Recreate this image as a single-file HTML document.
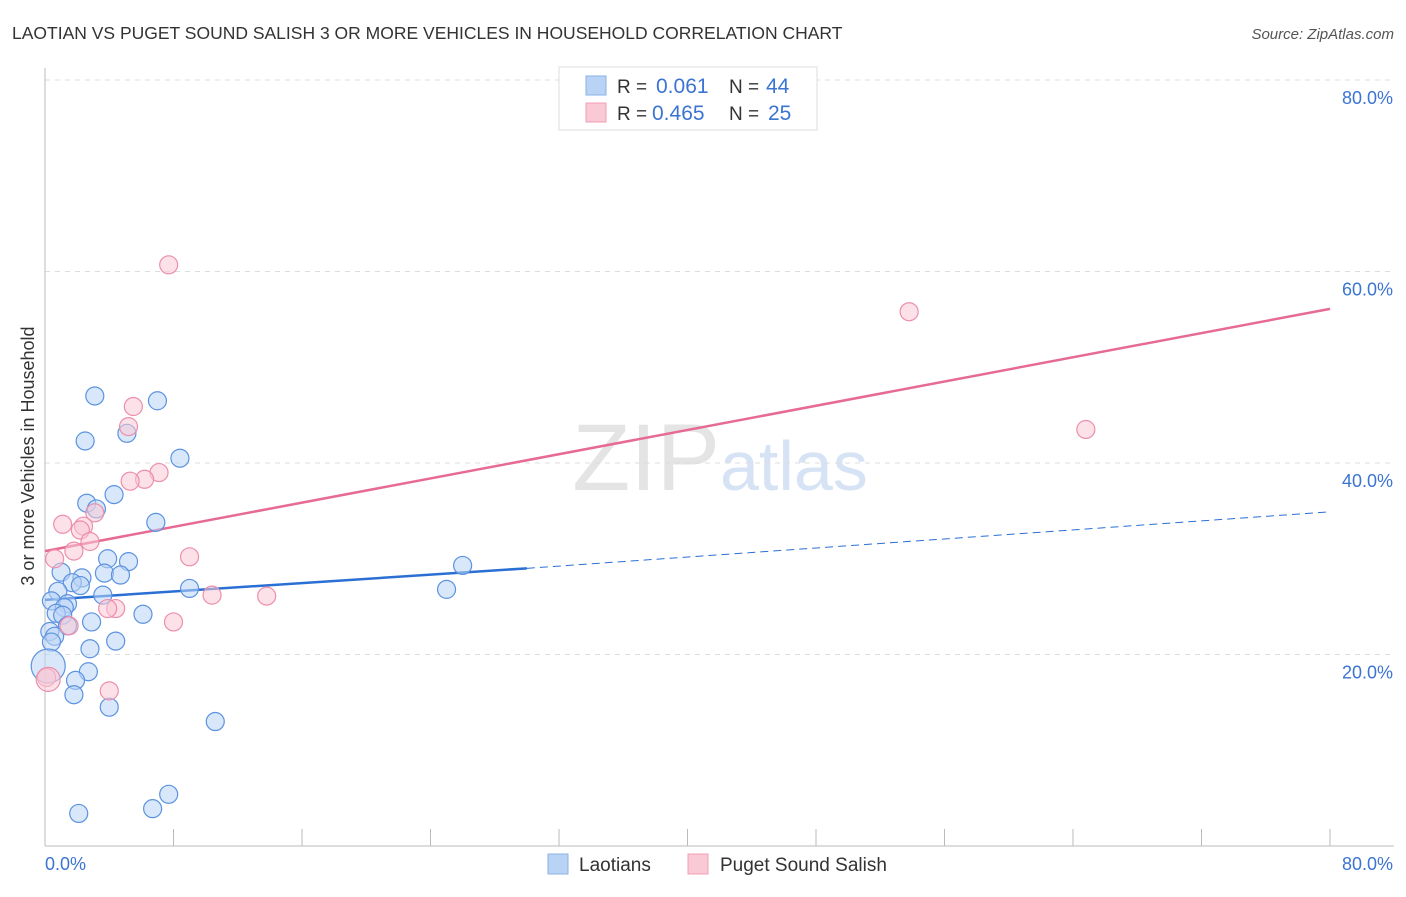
<!DOCTYPE html>
<html><head><meta charset="utf-8"><style>
body{margin:0;background:#fff;font-family:"Liberation Sans",sans-serif;}
svg text{font-family:"Liberation Sans",sans-serif;}
</style></head><body>
<svg id="chart" width="1406" height="892" xmlns="http://www.w3.org/2000/svg">
<text x="12" y="39" font-size="17.5" fill="#333">LAOTIAN VS PUGET SOUND SALISH 3 OR MORE VEHICLES IN HOUSEHOLD CORRELATION CHART</text>
<text x="1394" y="39" font-size="15" fill="#555" font-style="italic" text-anchor="end">Source: ZipAtlas.com</text>
<text x="720" y="490" font-size="95" fill="#e4e4e4" text-anchor="end" font-family="Liberation Serif">ZIP</text>
<text x="720" y="490" font-size="70" fill="#d6e3f5">atlas</text>
<text transform="translate(34,456) rotate(-90)" font-size="18" fill="#333" text-anchor="middle">3 or more Vehicles in Household</text>
<g id="grid"></g><g id="axes"></g><g id="lines"></g><g id="pts"></g>
<g>
<rect x="559" y="67" width="258" height="63" fill="#fff" stroke="#ddd"/>
<rect x="586" y="76" width="20" height="19" fill="#b9d3f5" stroke="#8ab2e6"/>
<rect x="586" y="103" width="20" height="19" fill="#f9c9d6" stroke="#efa0b7"/>
<text x="617" y="93" font-size="19" fill="#333">R = </text><text x="656" y="93" font-size="21" fill="#3b74d1">0.061</text>
<text x="729" y="93" font-size="19" fill="#333">N = </text><text x="766" y="93" font-size="21" fill="#3b74d1">44</text>
<text x="617" y="120" font-size="19" fill="#333">R = </text><text x="652" y="120" font-size="21" fill="#3b74d1">0.465</text>
<text x="729" y="120" font-size="19" fill="#333">N = </text><text x="768" y="120" font-size="21" fill="#3b74d1">25</text>
</g>
<g>
<rect x="548" y="854" width="20" height="20" fill="#b9d3f5" stroke="#8ab2e6"/>
<text x="579" y="871" font-size="19" fill="#333">Laotians</text>
<rect x="688" y="854" width="20" height="20" fill="#f9c9d6" stroke="#efa0b7"/>
<text x="720" y="871" font-size="19" fill="#333">Puget Sound Salish</text>
</g>
</svg>
<script>
const yTicks=[20,40,60,80];
const yTickLabels=["20.0%","40.0%","60.0%","80.0%"];
const xTickLabels=["0.0%","80.0%"];
const blueX=[3.1,7.0,2.5,5.1,8.4,2.6,4.3,3.2,6.9,3.9,5.2,1.0,3.7,4.7,2.3,1.7,2.2,9.0,25.0,26.0,0.8,3.6,0.4,1.4,1.2,6.1,0.7,1.1,2.9,1.4,0.3,0.6,4.4,2.8,0.4,2.7,0.2,1.9,1.8,4.0,10.6,2.1,6.7,7.7];
const blueY=[47.0,46.5,42.3,43.1,40.5,35.8,36.7,35.2,33.8,30.0,29.7,28.6,28.5,28.3,28.0,27.5,27.2,26.9,26.8,29.3,26.6,26.2,25.6,25.3,24.9,24.2,24.3,24.1,23.4,23.0,22.4,21.9,21.4,20.6,21.3,18.2,18.8,17.3,15.8,14.5,13.0,3.4,3.9,5.4];
const pinkX=[7.7,53.8,64.8,5.5,5.2,7.1,6.2,5.3,3.1,1.1,2.4,2.2,2.8,1.8,0.6,9.0,10.4,13.8,4.4,3.9,8.0,1.5,4.0,0.1,0.2];
const pinkY=[60.7,55.8,43.5,45.9,43.8,39.0,38.3,38.1,34.8,33.6,33.4,33.0,31.8,30.8,30.0,30.2,26.2,26.1,24.8,24.8,23.4,23.0,16.2,17.6,17.4];
const pinkR=[9,9,9,9,9,9,9,9,9,9,9,9,9,9,9,9,9,9,9,9,9,9,9,9,9];
const blueLine=[[0,25.7],[30,29.0],[80,34.9]];
const pinkLine=[[0,30.8],[80,56.1]];
const X0=45,X1=1330,Y0=846,YS=9.575;
const xs=v=>X0+v*(X1-X0)/80, ys=v=>Y0-v*YS;
const NS="http://www.w3.org/2000/svg";
function mk(tag,attrs,parent){const e=document.createElementNS(NS,tag);for(const k in attrs)e.setAttribute(k,attrs[k]);document.getElementById(parent).appendChild(e);return e;}
yTicks.forEach((t,i)=>{
 const g=mk('line',{x1:45,x2:1394,y1:ys(t),y2:ys(t),stroke:'#ddd','stroke-dasharray':'5,5'},'grid');
 
 
 const l=mk('text',{x:1393,y:ys(t)+24,'font-size':18,fill:'#3b74d1','text-anchor':'end'},'grid');
 l.textContent=yTickLabels[i];
 
 
});
const ax=mk('line',{x1:45,x2:45,y1:68,y2:846,stroke:'#bbb'},'axes');


const bx=mk('line',{x1:45,x2:1394,y1:846,y2:846,stroke:'#bbb'},'axes');


for(let i=1;i<=10;i++){const t=mk('line',{x1:xs(i*8),x2:xs(i*8),y1:829,y2:846,stroke:'#bbb'},'axes');
 
 }
[[0,'start',45],[80,'end',1393]].forEach((d,i)=>{const t=mk('text',{x:d[2],y:870,'font-size':18,fill:'#3b74d1','text-anchor':d[1]},'axes');t.textContent=xTickLabels[i];
 
 });
function circ(x,y,r,f,s,name){const c=mk('circle',{cx:xs(x),cy:ys(y),r:r,fill:f,'fill-opacity':0.55,stroke:s,'stroke-width':1.2},'pts');
 
 }
blueX.forEach((x,i)=>circ(x,blueY[i],i==36?17:9,'#b9d3f5','#5b93e0','laotian-point'));
pinkX.forEach((x,i)=>circ(x,pinkY[i],i==24?12:pinkR[i],'#f9c9d6','#ec8fab','puget-point'));
const b1=mk('line',{x1:xs(blueLine[0][0]),y1:ys(blueLine[0][1]),x2:xs(blueLine[1][0]),y2:ys(blueLine[1][1]),stroke:'#2a6fd4','stroke-width':2.5},'lines');


const b2=mk('line',{x1:xs(blueLine[1][0]),y1:ys(blueLine[1][1]),x2:xs(blueLine[2][0]),y2:ys(blueLine[2][1]),stroke:'#2a6fd4','stroke-width':1,'stroke-dasharray':'8,5'},'lines');


const p1=mk('line',{x1:xs(pinkLine[0][0]),y1:ys(pinkLine[0][1]),x2:xs(pinkLine[1][0]),y2:ys(pinkLine[1][1]),stroke:'#e76a92','stroke-width':2.5},'lines');


</script>
</body></html>
